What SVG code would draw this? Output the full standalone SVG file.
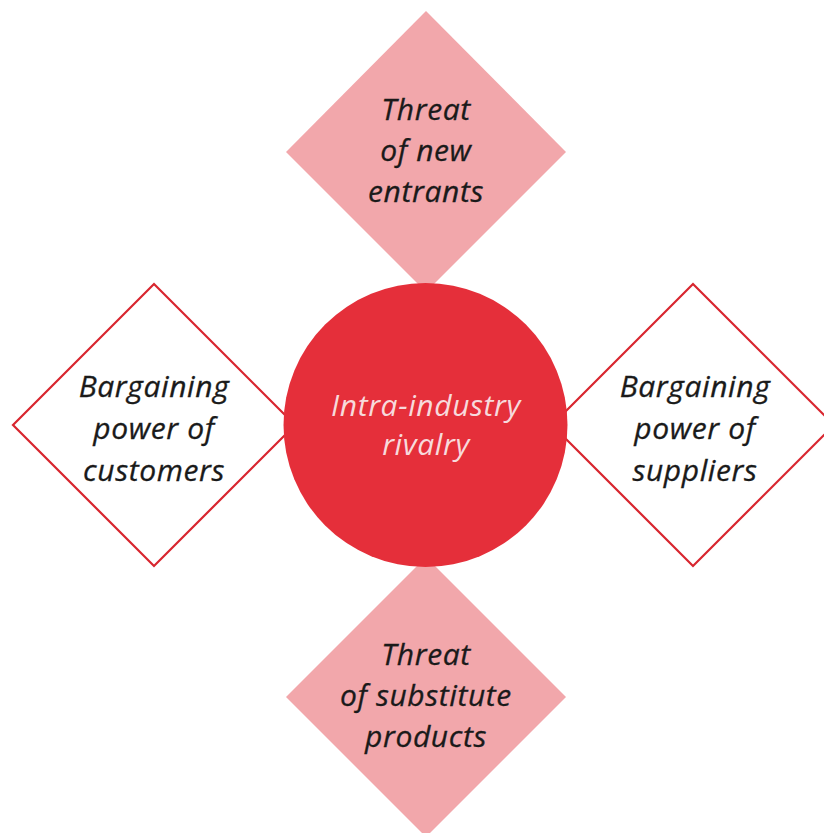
<svg xmlns="http://www.w3.org/2000/svg" width="824" height="833" viewBox="0 0 824 833">
<style>
.pink{fill:#F2A7AB;stroke:none}
.outline{fill:#FFFFFF;stroke:#D8262F;stroke-width:2.2}
.hub{fill:#E52F3A}
text{font-family:"Open Sans","Noto Sans","Liberation Sans",sans-serif;font-style:italic;font-size:30px;letter-spacing:0.6px;text-anchor:middle}
.dark{fill:#1A1A1A;stroke:#1A1A1A;stroke-width:0.3}
.light{fill:#F7DADC}
</style>
<rect width="824" height="833" fill="#FFFFFF"/>
<g id="threat-new-entrants">
<polygon class="pink" points="426,11 566,152 426,292 286,152"/>
<text class="dark" x="426" y="120">Threat</text>
<text class="dark" x="426" y="161">of new</text>
<text class="dark" x="426" y="202">entrants</text>
</g>
<g id="threat-substitutes">
<polygon class="pink" points="426,557 566,697 426,837 286,697"/>
<text class="dark" x="426" y="665">Threat</text>
<text class="dark" x="426" y="706">of substitute</text>
<text class="dark" x="426" y="747">products</text>
</g>
<g id="bargaining-customers">
<polygon class="outline" points="154,284 295,425 154,566 13,425"/>
<text class="dark" x="154" y="397">Bargaining</text>
<text class="dark" x="154" y="439">power of</text>
<text class="dark" x="154" y="481">customers</text>
</g>
<g id="bargaining-suppliers">
<polygon class="outline" points="693,284 834,425 693,566 552,425"/>
<text class="dark" x="695" y="397">Bargaining</text>
<text class="dark" x="695" y="439">power of</text>
<text class="dark" x="695" y="481">suppliers</text>
</g>
<g id="connectors"></g>
<g id="intra-industry-rivalry">
<circle class="hub" cx="425.5" cy="425" r="142"/>
<text class="light" x="426" y="416">Intra-industry</text>
<text class="light" x="426" y="455">rivalry</text>
</g>
</svg>
